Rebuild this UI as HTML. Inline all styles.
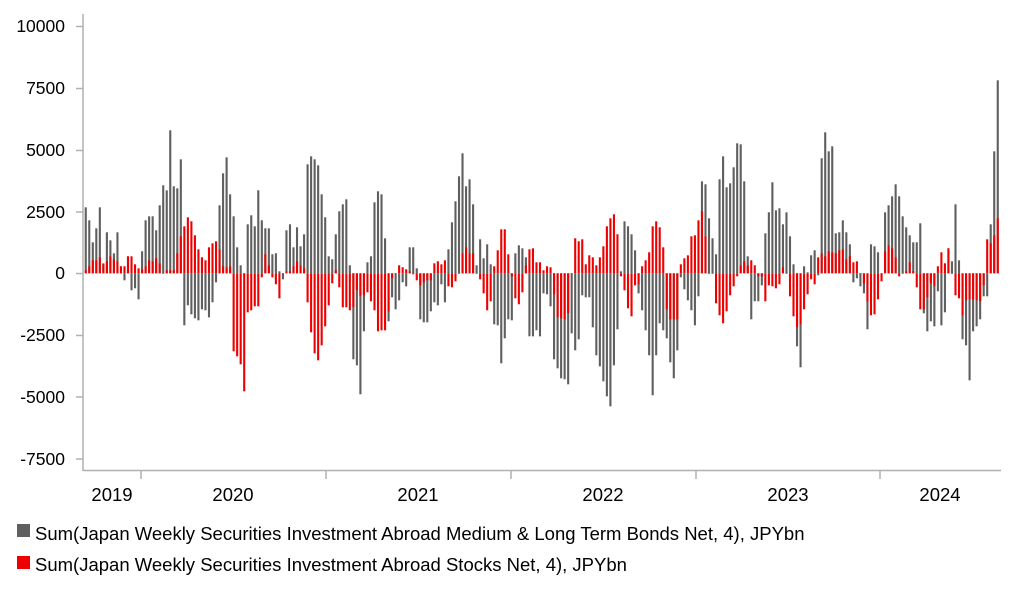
<!DOCTYPE html>
<html><head><meta charset="utf-8"><style>
body{margin:0;background:#fff;font-family:"Liberation Sans",Arial,sans-serif;}
svg{display:block}
</style></head><body>
<svg id="c" width="1022" height="597" xmlns="http://www.w3.org/2000/svg" font-family="Liberation Sans, Arial, sans-serif">
<g font-size="17.5" fill="#000" text-anchor="end">
<text x="65" y="32">10000</text>
<text x="65" y="94">7500</text>
<text x="65" y="156">5000</text>
<text x="65" y="218">2500</text>
<text x="65" y="279">0</text>
<text x="65" y="341">-2500</text>
<text x="65" y="403">-5000</text>
<text x="65" y="465">-7500</text>
</g>
<g stroke="#b0b0b0" stroke-width="1.5">
<line x1="83" y1="14" x2="83" y2="471"/>
<line x1="83" y1="470.5" x2="1001" y2="470.5"/>
<line x1="76" y1="26.5" x2="83" y2="26.5"/>
<line x1="76" y1="88.5" x2="83" y2="88.5"/>
<line x1="76" y1="150.5" x2="83" y2="150.5"/>
<line x1="76" y1="212" x2="83" y2="212"/>
<line x1="76" y1="273.5" x2="83" y2="273.5"/>
<line x1="76" y1="335.5" x2="83" y2="335.5"/>
<line x1="76" y1="397" x2="83" y2="397"/>
<line x1="76" y1="459" x2="83" y2="459"/>
<line x1="141" y1="470" x2="141" y2="479"/>
<line x1="326" y1="470" x2="326" y2="479"/>
<line x1="511" y1="470" x2="511" y2="479"/>
<line x1="696" y1="470" x2="696" y2="479"/>
<line x1="880" y1="470" x2="880" y2="479"/>
</g>
<g font-size="18.5" fill="#000" text-anchor="middle">
<text x="112" y="501">2019</text>
<text x="233" y="501">2020</text>
<text x="418" y="501">2021</text>
<text x="603" y="501">2022</text>
<text x="788" y="501">2023</text>
<text x="940" y="501">2024</text>
</g>
<rect x="17" y="524" width="13" height="13" fill="#5f5f5f"/>
<text x="35" y="540" font-size="18.5">Sum(Japan Weekly Securities Investment Abroad Medium &amp; Long Term Bonds Net, 4), JPYbn</text>
<rect x="17" y="556" width="13" height="13" fill="#ee0000"/>
<text x="35" y="571" font-size="18.5">Sum(Japan Weekly Securities Investment Abroad Stocks Net, 4), JPYbn</text>
<g id="bars"></g>
</svg>
<script>
var g=[66,53,31,45,66,10,41,33,20,41,7,-7,17,-17,-15,-26,22,53,57,57,43,68,88,83,143,87,85,114,-52,-32,-41,-45,-47,-36,-37,-44,-29,-9,68,100,116,79,57,26,8,0,49,58,47,83,53,45,45,19,20,2,-6,43,49,26,46,27,39,109,117,114,108,79,56,17,14,
39,62,69,74,8,-86,-92,-121,-58,11,17,71,82,79,35,-48,-24,-36,-27,-9,-13,26,26,5,-46,-49,-49,-38,-29,-32,-11,-29,24,51,72,97,120,87,94,69,8,34,15,29,9,-51,-52,-90,-65,-46,-47,20,28,25,16,-63,-63,-57,-63,-20,-21,-33,-86,-95,
-105,-106,-111,-60,-77,-66,-22,-24,-24,-54,-82,-93,-108,-123,-133,-92,-56,2,52,47,39,23,-20,-37,-57,-82,-122,-82,-50,-57,-65,-89,-105,-77,-4,-16,-27,-37,-52,-23,92,89,55,35,19,94,117,86,90,106,130,129,92,17,-46,-28,-28,-12,40,61,91,63,65,49,
61,37,9,-73,-94,7,1,18,23,-2,115,141,122,127,40,41,53,41,29,-9,-5,-13,-20,-56,29,27,21,0,61,68,77,89,77,57,46,38,31,31,50,-40,-58,-48,-53,-18,-52,-39,25,12,69,13,-66,-72,-107,-58,-53,-46,-23,-23,49,122,193];
var r=[3,7,13,13,16,9,12,17,14,12,7,7,17,17,9,5,4,7,13,12,15,10,0,3,3,3,20,37,47,56,52,38,24,16,13,26,30,32,24,7,6,7,-78,-83,-91,-118,-39,-37,-33,-33,-4,19,8,-4,-11,-25,0,2,2,7,12,8,5,-29,-59,-80,-87,-72,-53,-32,-10,
3,-14,-34,-34,-37,-34,-17,-23,-22,-19,-28,-37,-58,-57,-57,-38,-5,0,8,6,4,2,-1,-7,-12,-9,-7,-7,10,12,9,13,-13,-14,-8,0,20,26,20,20,0,-6,-20,-37,-28,7,23,44,44,19,-3,-25,-31,-19,8,24,25,11,11,3,7,6,-21,-44,
-45,-46,-40,0,35,32,34,9,18,16,8,16,27,47,55,59,39,-3,-17,-35,-43,-12,-11,7,13,21,47,52,46,26,-36,-46,-46,-46,9,15,18,37,38,53,62,37,0,0,-30,-42,-50,-38,-22,-13,-3,8,12,8,13,8,-3,-3,-28,-12,-13,-15,-11,6,
0,-23,-43,-54,-51,-36,-21,-6,-11,16,20,17,22,21,20,23,24,14,17,11,12,0,-10,-28,-42,-41,-26,-8,22,28,25,16,-3,0,2,11,2,-14,-36,-36,-24,-10,-13,7,21,10,25,0,-22,-25,-42,-27,-26,-26,-27,-28,-12,34,30,38,55];
var n=Math.min(g.length,r.length),x0=85.7,p=(997.7-85.7)/(n-1),z=273.3,s='';
function rc(x,v,c){var y=v>=0?z-v:z,h=Math.abs(v);if(h<0.5)h=0.5;return '<rect x="'+(x-1).toFixed(2)+'" y="'+y.toFixed(2)+'" width="2.1" height="'+h.toFixed(2)+'" fill="'+c+'"/>';}
for(var i=0;i<n;i++){var x=x0+i*p;s+=rc(x,g[i],'#5f5f5f');s+=rc(x,r[i],'#ee0000');}
document.getElementById('bars').innerHTML=s;
</script>
</body></html>
